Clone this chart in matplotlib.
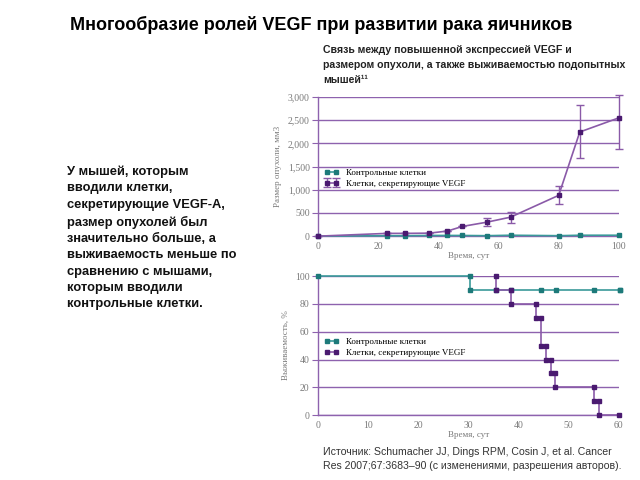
import numpy as np
import matplotlib.pyplot as plt
from matplotlib.ticker import FuncFormatter

plt.rcParams['font.family'] = ['Liberation Sans', 'DejaVu Sans']

# --- размер опухоли ---
days = [0, 23, 29, 37, 43, 48, 56, 64, 80, 87, 100]
ctrl_size = [0, 10, 10, 15, 15, 15, 10, 20, 10, 20, 20]
vegf_size = [0, 60, 60, 65, 110, 210, 300, 410, 880, 2245, 2550]
vegf_err_lo = [0, 0, 0, 0, 0, 0, 85, 130, 195, 560, 680]
vegf_err_hi = [0, 0, 0, 0, 0, 0, 95, 110, 205, 575, 490]

# --- выживаемость ---
ctrl_events = [30.4]
ctrl_surv = [90]
ctrl_censor = [35.4, 38.4, 44.4, 47.4, 55.1, 60.2]
vegf_events = [35.4, 38.4, 43.4, 44.4, 45.4, 46.4, 47.3, 55.1, 56.0]
vegf_surv = [90, 80, 70, 50, 40, 30, 20, 10, 0]
vegf_end = 60.0

labels = ['Контрольные клетки', 'Клетки, секретирующие VEGF']

TEAL_L, TEAL_M = '#3a9a9a', '#1d7a7a'
PURP_L, PURP_M = '#8a5aa8', '#4a1a70'
GRID = '#8e62ae'
GRAY = '#7a7a7a'
SERIF = ['Liberation Serif', 'DejaVu Serif']


def km_points(events, surv, end, start=100):
    xs, ys = [0], [start]
    prev = start
    for t, s in zip(events, surv):
        xs += [t, t]
        ys += [prev, s]
        prev = s
    xs.append(end)
    ys.append(prev)
    return np.array(xs), np.array(ys)


def style_axes(ax):
    for s in ['top', 'right']:
        ax.spines[s].set_visible(False)
    for s in ['left', 'bottom']:
        ax.spines[s].set_color(GRID)
        ax.spines[s].set_linewidth(1.0)
    ax.grid(axis='y', color=GRID, linewidth=1.0)
    ax.set_axisbelow(True)
    ax.tick_params(axis='y', direction='out', length=4, color=GRID,
                   labelsize=7, labelcolor=GRAY, pad=2)
    ax.tick_params(axis='x', direction='out', length=0, labelsize=7,
                   labelcolor=GRAY, pad=4)
    for lab in ax.get_xticklabels() + ax.get_yticklabels():
        lab.set_family(SERIF)


fig = plt.figure(figsize=(6.4, 4.8), dpi=100)

fig.text(0.109, 0.948, 'Многообразие ролей VEGF при развитии рака яичников',
         fontsize=13, fontweight='bold', va='center')
fig.text(0.505, 0.906,
         'Связь между повышенной экспрессией VEGF и\n'
         'размером опухоли, а также выживаемостью подопытных\n'
         'мышей¹¹',
         fontsize=7.6, fontweight='bold', va='top', linespacing=1.6,
         color='#222222')
fig.text(0.104, 0.655,
         'У мышей, которым\nвводили клетки,\nсекретирующие VEGF-A,\n'
         'размер опухолей был\nзначительно больше, а\n'
         'выживаемость меньше по\nсравнению с мышами,\n'
         'которым вводили\nконтрольные клетки.',
         fontsize=9.3, fontweight='bold', va='top', linespacing=1.48,
         color='#111111')
fig.text(0.505, 0.068,
         'Источник: Schumacher JJ, Dings RPM, Cosin J, et al. Cancer\n'
         'Res 2007;67:3683–90 (с изменениями, разрешения авторов).',
         fontsize=7.6, va='top', linespacing=1.4, color='#333333')

# верхний график
ax1 = fig.add_axes([0.497, 0.508, 0.470, 0.290])
ax1.plot(days, ctrl_size, '-s', color=TEAL_L, mfc=TEAL_M, mec=TEAL_M,
         ms=3.5, lw=1.2, label=labels[0], clip_on=False, zorder=3)
ax1.errorbar(days, vegf_size, yerr=[vegf_err_lo, vegf_err_hi], fmt='-s',
             color=PURP_L, mfc=PURP_M, mec=PURP_M, ecolor=PURP_L, ms=3.5,
             lw=1.2, elinewidth=1.0, capsize=3, label=labels[1],
             clip_on=False, zorder=4)
ax1.set_xlim(0, 100)
ax1.set_ylim(0, 3000)
ax1.set_xticks(range(0, 101, 20))
ax1.set_yticks(range(0, 3001, 500))
ax1.yaxis.set_major_formatter(FuncFormatter(lambda v, p: f'{int(v):,}'))
style_axes(ax1)
ax1.set_xlabel('Время, сут', fontsize=6.5, color=GRAY, family=SERIF, labelpad=1)
ax1.set_ylabel('Размер опухоли, мм3', fontsize=6.5, color=GRAY, family=SERIF,
               labelpad=4)
ax1.legend(loc='upper left', bbox_to_anchor=(0.0, 0.53), frameon=False,
           prop={'family': SERIF, 'size': 6.5}, handlelength=1.6, numpoints=2,
           labelspacing=0.3, borderaxespad=0.3)

# нижний график
ax2 = fig.add_axes([0.497, 0.135, 0.470, 0.290])
cx, cy = km_points(ctrl_events, ctrl_surv, ctrl_censor[-1])
vx, vy = km_points(vegf_events, vegf_surv, vegf_end)
ax2.plot(cx, cy, '-', color=TEAL_L, lw=1.2, label=labels[0], clip_on=False,
         marker='s', mfc=TEAL_M, mec=TEAL_M, ms=3.5, zorder=3)
ax2.plot(ctrl_censor, [ctrl_surv[-1]] * len(ctrl_censor), 's', color=TEAL_M,
         ms=3.5, clip_on=False, zorder=3)
ax2.plot(vx[1:], vy[1:], '-', color=PURP_L, lw=1.2, label=labels[1],
         clip_on=False, marker='s', mfc=PURP_M, mec=PURP_M, ms=3.5, zorder=4)
ax2.plot(vx[:2], vy[:2], '-', color=PURP_L, lw=1.2, zorder=2)
ax2.set_xlim(0, 60)
ax2.set_ylim(0, 100)
ax2.set_xticks(range(0, 61, 10))
ax2.set_yticks(range(0, 101, 20))
style_axes(ax2)
ax2.set_xlabel('Время, сут', fontsize=6.5, color=GRAY, family=SERIF, labelpad=1)
ax2.set_ylabel('Выживаемость, %', fontsize=6.5, color=GRAY, family=SERIF,
               labelpad=4)
ax2.legend(loc='upper left', bbox_to_anchor=(0.0, 0.6), frameon=False,
           prop={'family': SERIF, 'size': 6.5}, handlelength=1.6, numpoints=2,
           labelspacing=0.3, borderaxespad=0.3)

fig.savefig('out.png', dpi=100)
